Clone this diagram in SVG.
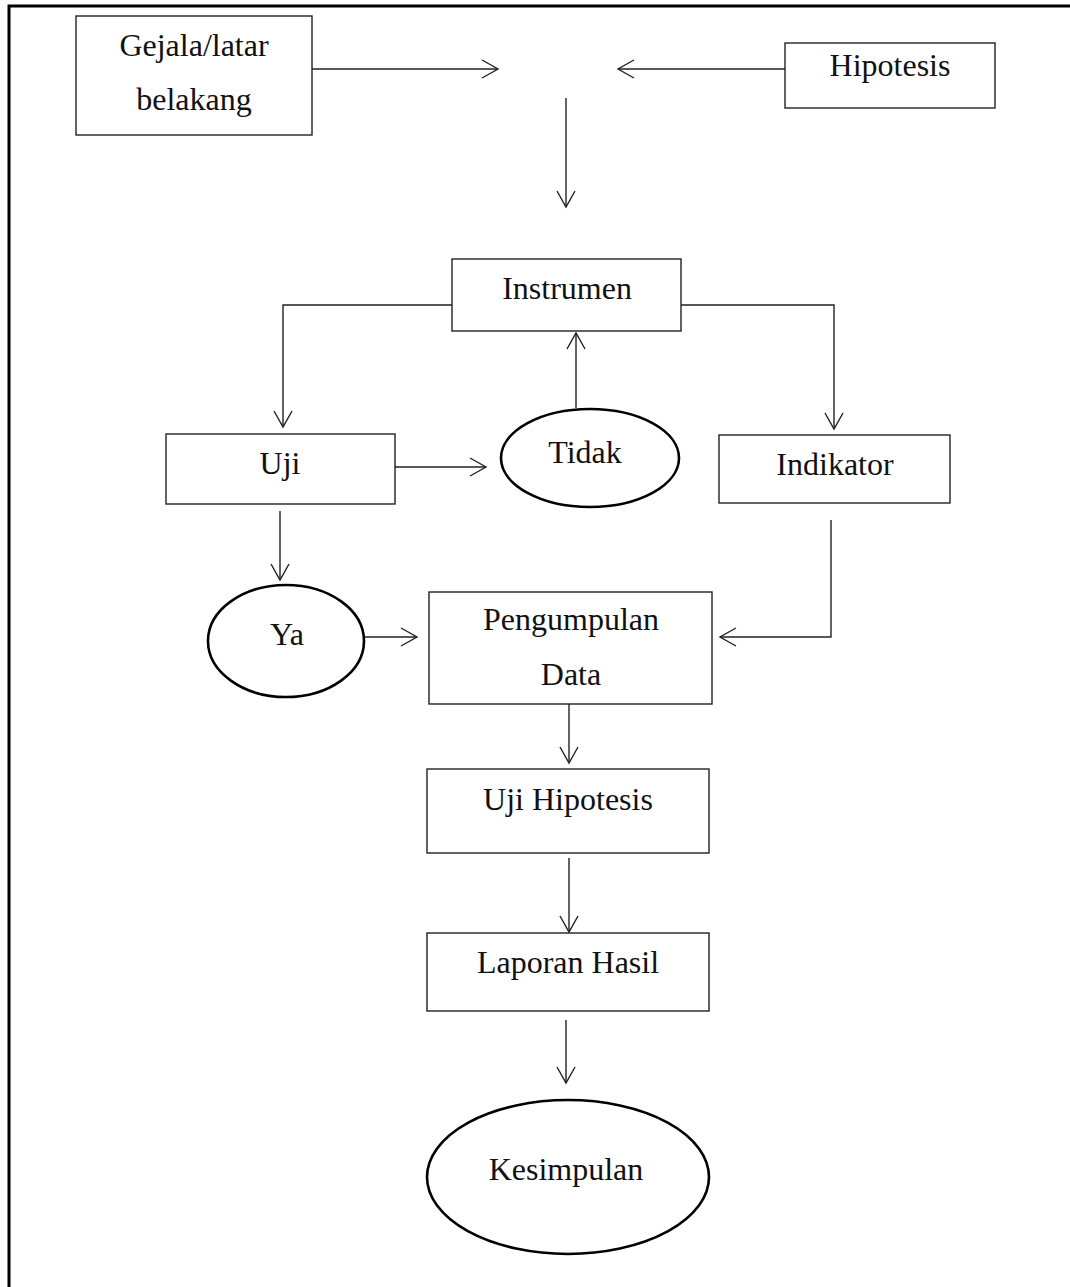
<svg xmlns="http://www.w3.org/2000/svg" width="1070" height="1287" viewBox="0 0 1070 1287">
<style>
.box{fill:#fff;stroke:#222;stroke-width:1.4}
.ell{fill:#fff;stroke:#000;stroke-width:2.6}
.t{font-family:"Liberation Serif","Times New Roman",serif;font-size:32px;fill:#111;text-anchor:middle}
.c{fill:none;stroke:#222;stroke-width:1.4}
</style>
<defs>
<marker id="arr" markerWidth="20" markerHeight="20" refX="17" refY="10" orient="auto" markerUnits="userSpaceOnUse" viewBox="0 0 20 20">
<path d="M1,1 L17,10 L1,19" fill="none" stroke="#222" stroke-width="1.4"/>
</marker>
</defs>
<rect width="1070" height="1287" fill="#fff"/>
<path d="M9,1287 L9,6 L1070,6" fill="none" stroke="#000" stroke-width="3"/>
<g id="connectors">
<path class="c" d="M312,69 L498,69" marker-end="url(#arr)"/>
<path class="c" d="M785,69 L618,69" marker-end="url(#arr)"/>
<path class="c" d="M566,98 L566,207" marker-end="url(#arr)"/>
<path class="c" d="M452,305 L283,305 L283,427" marker-end="url(#arr)"/>
<path class="c" d="M681,305 L834,305 L834,429" marker-end="url(#arr)"/>
<path class="c" d="M576,408 L576,333" marker-end="url(#arr)"/>
<path class="c" d="M392,467 L486,467" marker-end="url(#arr)"/>
<path class="c" d="M280,511 L280,580" marker-end="url(#arr)"/>
<path class="c" d="M364,637 L417,637" marker-end="url(#arr)"/>
<path class="c" d="M831,520 L831,637 L720,637" marker-end="url(#arr)"/>
<path class="c" d="M569,704 L569,763" marker-end="url(#arr)"/>
<path class="c" d="M569,858 L569,932" marker-end="url(#arr)"/>
<path class="c" d="M566,1020 L566,1083" marker-end="url(#arr)"/>
</g>
<g id="gejala">
<rect class="box" x="76" y="16" width="236" height="119"/>
<text class="t" x="194" y="56">Gejala/latar</text>
<text class="t" x="194" y="110">belakang</text>
</g>
<g id="hipotesis">
<rect class="box" x="785" y="43" width="210" height="65"/>
<text class="t" x="890" y="76">Hipotesis</text>
</g>
<g id="instrumen">
<rect class="box" x="452" y="259" width="229" height="72"/>
<text class="t" x="567" y="299">Instrumen</text>
</g>
<g id="uji">
<rect class="box" x="166" y="434" width="229" height="70"/>
<text class="t" x="280" y="474">Uji</text>
</g>
<g id="tidak">
<ellipse class="ell" cx="590" cy="458" rx="89" ry="49"/>
<text class="t" x="585" y="463">Tidak</text>
</g>
<g id="indikator">
<rect class="box" x="719" y="435" width="231" height="68"/>
<text class="t" x="835" y="475">Indikator</text>
</g>
<g id="ya">
<ellipse class="ell" cx="286" cy="641" rx="78" ry="56"/>
<text class="t" x="287" y="645">Ya</text>
</g>
<g id="pengumpulan">
<rect class="box" x="429" y="592" width="283" height="112"/>
<text class="t" x="571" y="630">Pengumpulan</text>
<text class="t" x="571" y="685">Data</text>
</g>
<g id="uji-hipotesis">
<rect class="box" x="427" y="769" width="282" height="84"/>
<text class="t" x="568" y="810">Uji Hipotesis</text>
</g>
<g id="laporan">
<rect class="box" x="427" y="933" width="282" height="78"/>
<text class="t" x="568" y="973">Laporan Hasil</text>
</g>
<g id="kesimpulan">
<ellipse class="ell" cx="568" cy="1177" rx="141" ry="77"/>
<text class="t" x="566" y="1180">Kesimpulan</text>
</g>
</svg>
